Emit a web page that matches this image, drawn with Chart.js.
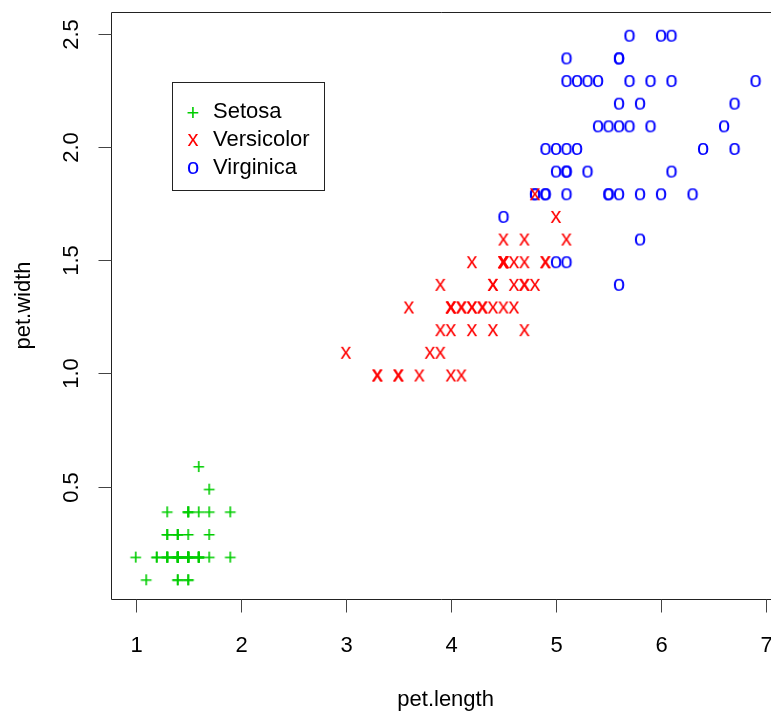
<!DOCTYPE html>
<html>
<head>
<meta charset="utf-8">
<script src="https://cdn.jsdelivr.net/npm/chart.js@4"></script>
<style>
  html, body { margin: 0; padding: 0; background: #fff; overflow: hidden; }
</style>
</head>
<body>
<canvas id="chart" width="771" height="714"></canvas>
<script>
// iris petal measurements, per species
const setosaLength = [1.4,1.4,1.3,1.5,1.4,1.7,1.4,1.5,1.4,1.5,1.5,1.6,1.4,1.1,1.2,1.5,1.3,1.4,1.7,1.5,1.7,1.5,1.0,1.7,1.9,1.6,1.6,1.5,1.4,1.6,1.6,1.5,1.5,1.4,1.5,1.2,1.3,1.4,1.3,1.5,1.3,1.3,1.3,1.6,1.9,1.4,1.6,1.4,1.5,1.4];
const setosaWidth  = [0.2,0.2,0.2,0.2,0.2,0.4,0.3,0.2,0.2,0.1,0.2,0.2,0.1,0.1,0.2,0.4,0.4,0.3,0.3,0.3,0.2,0.4,0.2,0.5,0.2,0.2,0.4,0.2,0.2,0.2,0.2,0.4,0.1,0.2,0.2,0.2,0.2,0.1,0.2,0.2,0.3,0.3,0.2,0.6,0.4,0.3,0.2,0.2,0.2,0.2];
const versicolorLength = [4.7,4.5,4.9,4.0,4.6,4.5,4.7,3.3,4.6,3.9,3.5,4.2,4.0,4.7,3.6,4.4,4.5,4.1,4.5,3.9,4.8,4.0,4.9,4.7,4.3,4.4,4.8,5.0,4.5,3.5,3.8,3.7,3.9,5.1,4.5,4.5,4.7,4.4,4.1,4.0,4.4,4.6,4.0,3.3,4.2,4.2,4.2,4.3,3.0,4.1];
const versicolorWidth  = [1.4,1.5,1.5,1.3,1.5,1.3,1.6,1.0,1.3,1.4,1.0,1.5,1.0,1.4,1.3,1.4,1.5,1.0,1.5,1.1,1.8,1.3,1.5,1.2,1.3,1.4,1.4,1.7,1.5,1.0,1.1,1.0,1.2,1.6,1.5,1.6,1.5,1.3,1.3,1.3,1.2,1.4,1.2,1.0,1.3,1.2,1.3,1.3,1.1,1.3];
const virginicaLength = [6.0,5.1,5.9,5.6,5.8,6.6,4.5,6.3,5.8,6.1,5.1,5.3,5.5,5.0,5.1,5.3,5.5,6.7,6.9,5.0,5.7,4.9,6.7,4.9,5.7,6.0,4.8,4.9,5.6,5.8,6.1,6.4,5.6,5.1,5.6,6.1,5.6,5.5,4.8,5.4,5.6,5.1,5.1,5.9,5.7,5.2,5.0,5.2,5.4,5.1];
const virginicaWidth  = [2.5,1.9,2.1,1.8,2.2,2.1,1.7,1.8,1.8,2.5,2.0,1.9,2.1,2.0,2.4,2.3,1.8,2.2,2.3,1.5,2.3,2.0,2.0,1.8,2.1,1.8,1.8,1.8,2.1,1.6,1.9,2.0,2.2,1.5,1.4,2.3,2.4,1.8,1.8,2.1,2.4,2.3,1.9,2.3,2.5,2.3,1.9,2.0,2.3,1.8];

const speciesNames  = ['Setosa', 'Versicolor', 'Virginica'];
const speciesGlyphs = ['+', 'x', 'o'];
const speciesColors = ['#00cd00', '#ff0000', '#0000ff'];

const xTicks = [1, 2, 3, 4, 5, 6, 7];
const yTicks = [0.5, 1.0, 1.5, 2.0, 2.5];

const FONT = '22px "Liberation Sans", Arial, sans-serif';

// text glyph as a point image; R puts the ink a little below the point
function glyphImage(ch, color) {
  const c = document.createElement('canvas');
  c.width = 26; c.height = 26;
  const g = c.getContext('2d');
  g.font = FONT;
  g.fillStyle = color;
  const m = g.measureText(ch);
  const w = m.actualBoundingBoxRight + m.actualBoundingBoxLeft;
  const h = m.actualBoundingBoxAscent + m.actualBoundingBoxDescent;
  g.textBaseline = 'alphabetic';
  g.fillText(ch, 13 - w / 2 + m.actualBoundingBoxLeft, 15 + h / 2 - m.actualBoundingBoxDescent);
  return c;
}

const pairs = (xs, ys) => xs.map((x, i) => ({ x: x, y: ys[i] }));
const series = [
  pairs(setosaLength, setosaWidth),
  pairs(versicolorLength, versicolorWidth),
  pairs(virginicaLength, virginicaWidth)
];

const glyphs = speciesGlyphs.map((ch, i) => glyphImage(ch, speciesColors[i]));

// R style box, axes, titles and legend
const rFrame = {
  id: 'rFrame',
  afterDraw(chart) {
    const ctx = chart.ctx;
    const a = chart.chartArea;
    const sx = chart.scales.x, sy = chart.scales.y;
    ctx.save();
    ctx.strokeStyle = '#222';
    ctx.lineWidth = 1;
    const L = Math.round(a.left) + 0.5, T = Math.round(a.top) + 0.5, B = Math.round(a.bottom) + 0.5;
    ctx.beginPath();
    ctx.moveTo(a.right + 20, T); ctx.lineTo(L, T); ctx.lineTo(L, B); ctx.lineTo(a.right + 20, B);
    ctx.stroke();

    ctx.fillStyle = '#000';
    ctx.font = FONT;
    ctx.textAlign = 'center';
    ctx.textBaseline = 'middle';
    ctx.strokeStyle = '#444';
    xTicks.forEach(v => {
      const px = Math.round(sx.getPixelForValue(v)) + 0.5;
      ctx.beginPath(); ctx.moveTo(px, B); ctx.lineTo(px, B + 13); ctx.stroke();
      ctx.fillText(String(v), px, 646);
    });
    yTicks.forEach(v => {
      const py = Math.round(sy.getPixelForValue(v)) + 0.5;
      ctx.beginPath(); ctx.moveTo(L, py); ctx.lineTo(L - 13, py); ctx.stroke();
      ctx.save();
      ctx.translate(72, py);
      ctx.rotate(-Math.PI / 2);
      ctx.fillText(v.toFixed(1), 0, 0);
      ctx.restore();
    });

    // axis titles
    ctx.fillText('pet.length', sx.getPixelForValue(3.95), 700);
    ctx.save();
    ctx.translate(24, sy.getPixelForValue(1.3));
    ctx.rotate(-Math.PI / 2);
    ctx.fillText('pet.width', 0, 0);
    ctx.restore();

    // legend
    ctx.strokeStyle = '#222';
    ctx.strokeRect(172.5, 82.5, 152, 108);
    ctx.textAlign = 'left';
    chart.data.datasets.forEach((ds, i) => {
      const y = 112 + i * 28;
      ctx.drawImage(ds.pointStyle, 193 - 13, y - 15);
      ctx.fillStyle = '#000';
      ctx.fillText(ds.label, 213, y);
    });
    ctx.restore();
  }
};

new Chart(document.getElementById('chart'), {
  type: 'scatter',
  data: {
    datasets: series.map((pts, i) => ({
      label: speciesNames[i],
      data: pts,
      pointStyle: glyphs[i],
      pointRadius: 10
    }))
  },
  options: {
    responsive: false,
    animation: false,
    layout: { autoPadding: false, padding: { left: 111, top: 12, right: 0, bottom: 115 } },
    scales: {
      x: { type: 'linear', min: 0.764, max: 7.048, display: false },
      y: { type: 'linear', min: 0.004, max: 2.596, display: false }
    },
    plugins: { legend: { display: false }, tooltip: { enabled: false } }
  },
  plugins: [rFrame]
});
</script>
</body>
</html>
